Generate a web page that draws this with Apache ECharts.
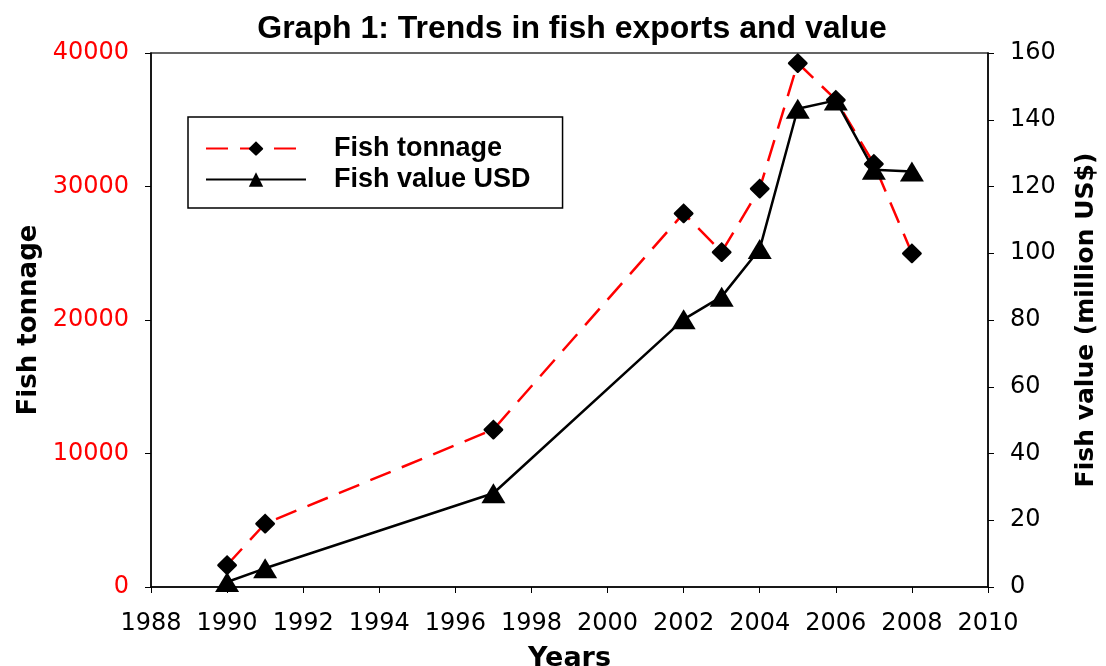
<!DOCTYPE html>
<html>
<head>
<meta charset="utf-8">
<script src="https://cdn.jsdelivr.net/npm/echarts@6/dist/echarts.min.js"></script>
<style>
  html, body { margin: 0; padding: 0; background: #fff; }
  #chart { width: 1106px; height: 666px; }
</style>
</head>
<body>
<div id="chart"></div>
<script>
// values
const years = [1990, 1991, 1997, 2002, 2003, 2004, 2005, 2006, 2007, 2008]
const fishTonnage = [1650, 4750, 11800, 28000, 25100, 29850, 39250, 36500, 31700, 25000]
const fishValue = [1.5, 5.6, 28.1, 80.2, 87, 101.3, 143.3, 145.8, 125, 124.5]

const font = 'DejaVu Sans'
const arial = 'Liberation Sans'

const myChart = echarts.init(document.getElementById('chart'))

myChart.setOption({
  animation: false,
  title: {
    text: 'Graph 1: Trends in fish exports and value',
    left: 567,
    textAlign: 'center',
    top: 8,
    textStyle: { fontFamily: arial, fontWeight: 'bold', fontSize: 32, color: '#000' }
  },
  legend: {
    left: 188,
    top: 117,
    orient: 'vertical',
    itemWidth: 100,
    itemHeight: 18,
    itemGap: 4,
    padding: [18, 32, 15, 17],
    borderColor: '#000',
    borderWidth: 1.5,
    textStyle: { fontFamily: arial, fontWeight: 'bold', fontSize: 27, color: '#000', padding: [0, 0, 0, 23] },
    data: ['Fish tonnage', 'Fish value USD']
  },
  grid: {
    left: 151,
    right: 118,
    top: 53,
    bottom: 79,
    outerBoundsMode: 'none',
    show: true,
    borderColor: '#333',
    borderWidth: 1.5
  },
  xAxis: {
    type: 'value',
    min: 1988,
    max: 2010,
    interval: 2,
    name: 'Years',
    nameLocation: 'middle',
    nameGap: 58,
    nameTextStyle: { fontFamily: font, fontWeight: 'bold', fontSize: 27, color: '#000' },
    axisLine: { lineStyle: { color: '#000', width: 1.5 } },
    axisTick: { length: 6, lineStyle: { color: '#000' } },
    axisLabel: { fontFamily: font, fontSize: 24, color: '#000', margin: 25, formatter: v => String(v) },
    splitLine: { show: false }
  },
  yAxis: [
    {
      type: 'value',
      min: 0,
      max: 40000,
      interval: 10000,
      name: 'Fish tonnage',
      nameLocation: 'middle',
      nameGap: 108,
      nameTextStyle: { fontFamily: font, fontWeight: 'bold', fontSize: 26, color: '#000' },
      axisLine: { show: true, lineStyle: { color: '#000', width: 1.5 } },
      axisTick: { show: true, length: 6, lineStyle: { color: '#000' } },
      axisLabel: { fontFamily: font, fontSize: 24, color: '#ff0000', margin: 22, formatter: v => String(v) },
      splitLine: { show: false }
    },
    {
      type: 'value',
      min: 0,
      max: 160,
      interval: 20,
      position: 'right',
      name: 'Fish value (million US$)',
      nameLocation: 'middle',
      nameGap: 86,
      nameRotate: 90,
      nameTextStyle: { fontFamily: font, fontWeight: 'bold', fontSize: 25, color: '#000' },
      axisLine: { show: true, lineStyle: { color: '#000', width: 1.5 } },
      axisTick: { show: true, length: 6, lineStyle: { color: '#000' } },
      axisLabel: { fontFamily: font, fontSize: 24, color: '#000', margin: 22 },
      splitLine: { show: false }
    }
  ],
  series: [
    {
      name: 'Fish tonnage',
      type: 'line',
      yAxisIndex: 0,
      data: years.map((y, i) => [y, fishTonnage[i]]),
      symbol: 'path://M0,-10 Q0,-10 1,-9 L9,-1 Q10,0 9,1 L1,9 Q0,10 -1,9 L-9,1 Q-10,0 -9,-1 L-1,-9 Q0,-10 0,-10 Z',
      symbolSize: 20,
      itemStyle: { color: '#000' },
      lineStyle: { color: '#ff0000', width: 2.5, type: [22, 12] },
      z: 2
    },
    {
      name: 'Fish value USD',
      type: 'line',
      yAxisIndex: 1,
      data: years.map((y, i) => [y, fishValue[i]]),
      symbol: 'triangle',
      symbolSize: [24, 20],
      itemStyle: { color: '#000' },
      lineStyle: { color: '#000', width: 2.5 },
      z: 3
    }
  ]
})
</script>
</body>
</html>
